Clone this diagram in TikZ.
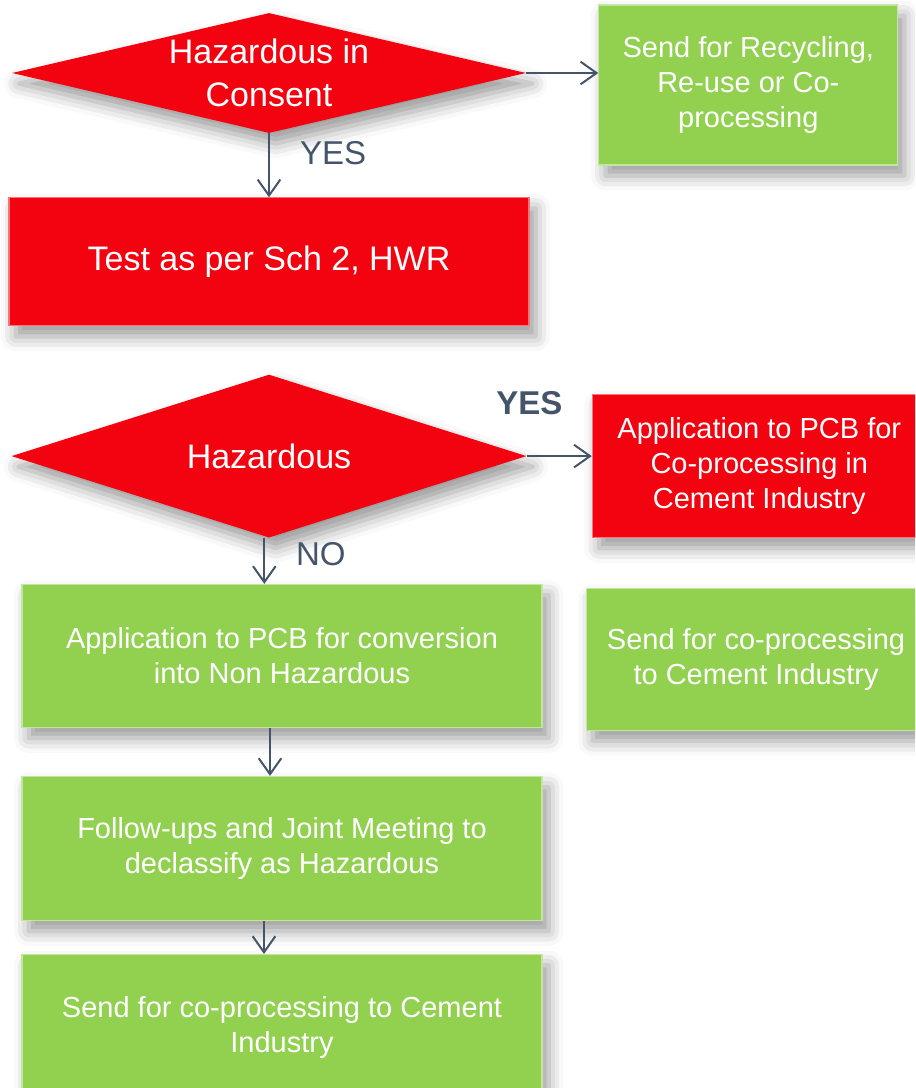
\documentclass[tikz,border=0pt]{standalone}
\usepackage{fontspec}
\setmainfont{Liberation Sans}
\usetikzlibrary{shapes.geometric, arrows.meta, positioning, shadows.blur}
\definecolor{flowred}{HTML}{F2030F}
\definecolor{flowgreen}{HTML}{92D050}
\definecolor{flowslate}{HTML}{44546A}

\begin{document}
\begin{tikzpicture}[
  shade/.style={blur shadow={shadow xshift=5pt, shadow yshift=-8pt,
                shadow blur radius=11pt, shadow opacity=40}},
  box/.style={rectangle, shade, align=center, text=white, inner sep=0pt,
              line width=0.8pt, font=\fontsize{21.75}{26.25}\selectfont},
  okbox/.style={box, fill=flowgreen, draw=flowgreen!55!white},
  hazbox/.style={box, fill=flowred, draw=flowred!55!white},
  decide/.style={diamond, shade, fill=flowred, text=white, inner sep=0pt,
                 align=center, font=\fontsize{25.5}{32}\selectfont},
  lbl/.style={text=flowslate, inner sep=0pt, font=\fontsize{24.75}{30}\selectfont},
  arr/.style={-{Straight Barb[length=12pt, width=17pt]}, line width=1.5pt, draw=flowslate}
]
\useasboundingbox (0,0) rectangle (686.25pt,-816pt);
\clip (0,0) rectangle (686.25pt,-816pt);

% first check
\node[decide, aspect=4.28, minimum width=385.5pt, minimum height=90pt] (consent) at (201.75pt,-54.75pt)
  {Hazardous in\\Consent};
\node[okbox, minimum width=224.25pt, minimum height=120pt, right=54pt of consent, yshift=-9pt] (recycle)
  {Send for Recycling,\\Re-use or Co-\\processing};
\node[hazbox, minimum width=390pt, minimum height=96pt, below=48pt of consent,
      font=\fontsize{25.5}{30}\selectfont] (test) {Test as per Sch 2, HWR};

% second check
\node[decide, aspect=3.16, minimum width=386.25pt, minimum height=122.25pt, below=36pt of test] (hazard) {Hazardous};
\node[hazbox, minimum width=250.5pt, minimum height=107.25pt, right=48.75pt of hazard, yshift=-7.5pt] (pcbco)
  {Application to PCB for\\Co-processing in\\Cement Industry};
\node[okbox, minimum width=390pt, minimum height=107.25pt, below=34.5pt of hazard, xshift=9.75pt] (convert)
  {Application to PCB for conversion\\into Non Hazardous};
\node[okbox, minimum width=255pt, minimum height=106.5pt, right=32.25pt of convert, yshift=-2.6pt] (sendside)
  {Send for co-processing\\to Cement Industry};
\node[okbox, minimum width=390pt, minimum height=108pt, below=36pt of convert] (follow)
  {Follow-ups and Joint Meeting to\\declassify as Hazardous};
\node[okbox, minimum width=390pt, minimum height=108.75pt, below=24.75pt of follow] (sendcem)
  {Send for co-processing to Cement\\Industry};

\node[lbl, font=\fontsize{24.75}{30}\selectfont\bfseries] (yes) at (397pt,-302.5pt) {YES};

\draw[arr] (consent.east) -- (consent.east -| recycle.west);
\draw[arr] (consent.south) -- node[lbl, pos=0.31, right=22.5pt] (yesa) {YES} (test.north);
\draw[arr] (hazard.east) -- (hazard.east -| pcbco.west);
\draw[arr] ([xshift=-3.5pt]hazard.south) -- node[lbl, pos=0.36, right=23pt] (no) {NO}
  ([xshift=-3.5pt]hazard.south |- convert.north);
\draw[arr] ([xshift=-9pt]convert.south) -- ([xshift=-9pt]follow.north);
\draw[arr] ([xshift=-13.5pt]follow.south) -- ([xshift=-13.5pt]sendcem.north);
\end{tikzpicture}
\end{document}
